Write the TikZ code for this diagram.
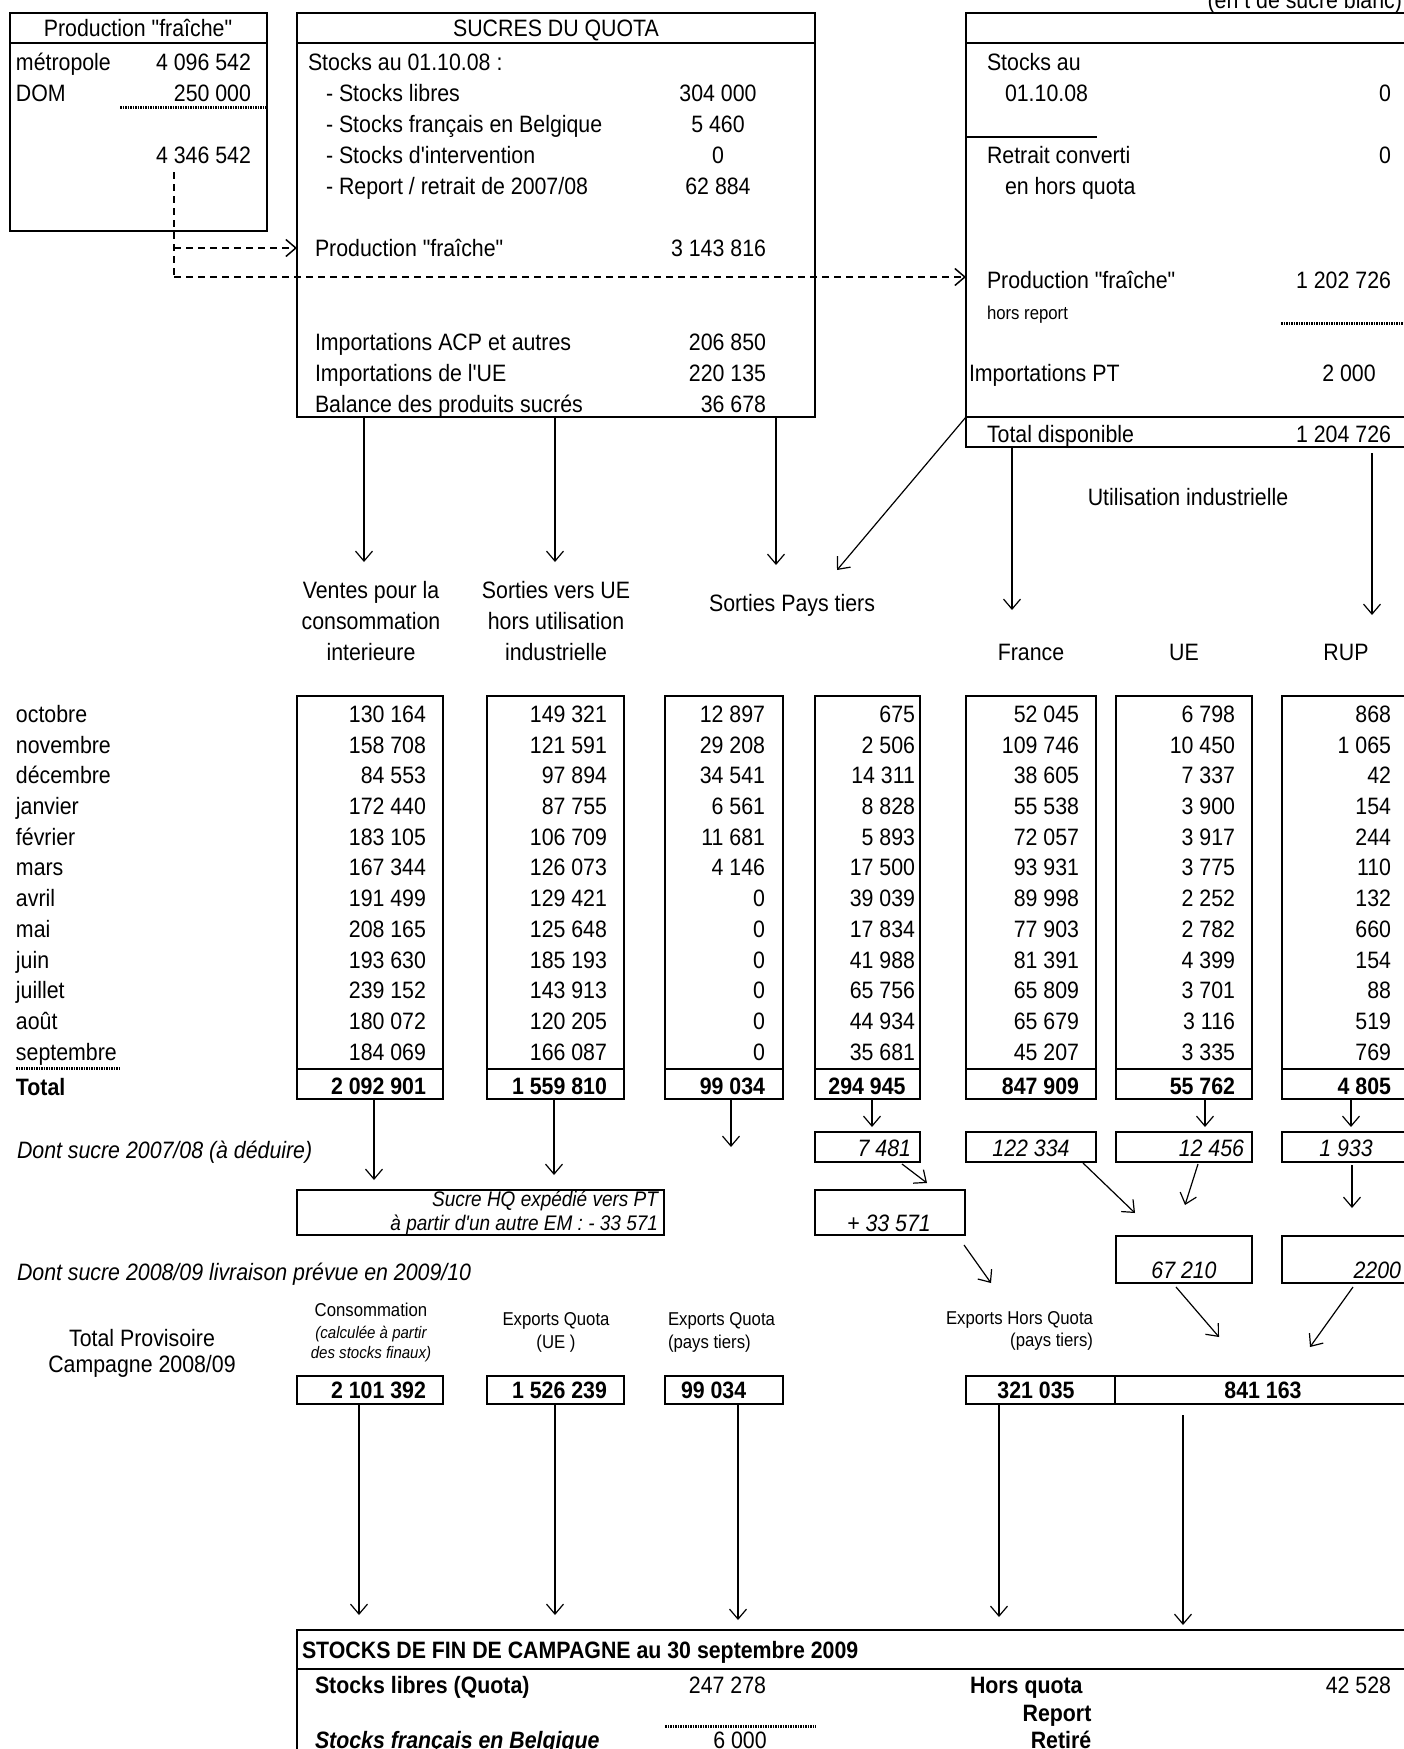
\documentclass[tikz,border=0pt]{standalone}
\usepackage{fontspec}
\setmainfont{Liberation Sans}[Ligatures=TeXOff,FakeStretch=0.9]
\usetikzlibrary{arrows.meta}
\newcommand\fzN{\fontsize{23.7}{27}\selectfont}
\newcommand\fzM{\fontsize{21.1}{24}\selectfont}
\newcommand\fzS{\fontsize{18.6}{21}\selectfont}
\newcommand\fzT{\fontsize{16.7}{19}\selectfont}
\newcommand\bx[6]{\node[#6,minimum width={(#4)-(#2)},minimum height={(#5)-(#3)}] (#1) at (#2,#3) {};}
\newcommand\tcol[5]{%
  \bx{#1}{#2}{696}{#3}{1099}{tbox}
  \draw[sepl] (#2,1069) -- (#3,1069);
  \foreach \v [count=\i from 0] in {#5} {\node[t,le] (#1r\i) at (#4,{714+30.7*\i}) {\v};}
}
\begin{document}
\begin{tikzpicture}[x=1pt,y=-1pt,
  t/.style={inner sep=0pt,outer sep=0pt,font=\fzN,yshift=-8.4pt},
  tb/.style={t,font=\fzN\bfseries},
  ti/.style={t,font=\fzN\itshape},
  tbi/.style={t,font=\fzN\bfseries\itshape},
  tm/.style={inner sep=0pt,outer sep=0pt,font=\fzM\itshape,yshift=-7.5pt},
  ts/.style={inner sep=0pt,outer sep=0pt,font=\fzS,yshift=-6.6pt},
  tt/.style={inner sep=0pt,outer sep=0pt,font=\fzT\itshape,yshift=-6pt},
  lw/.style={anchor=base west},
  le/.style={anchor=base east},
  lc/.style={anchor=base},
  tbox/.style={draw,line width=2.6pt,anchor=north west,inner sep=0pt,outer sep=0pt},
  nbox/.style={draw,line width=1.2pt,anchor=north west,inner sep=0pt,outer sep=0pt},
  tip/.style={-{Straight Barb[length=10pt,width=17pt]}},
  arr/.style={line width=1.2pt,tip},
  dashl/.style={line width=1.5pt,dash pattern=on 7pt off 5pt},
  dotl/.style={line width=3pt,dash pattern=on 1.5pt off 1pt},
  sepl/.style={line width=2.6pt}
]
\useasboundingbox (0,0) rectangle (1404,1749);
\fill[white] (0,0) rectangle (1404,1749);

% ---------- top left box
\bx{pf}{10}{13}{267}{231}{tbox}
\draw[sepl] (10,43) -- (267,43);
\node[t,lc] (pfh) at (138,28) {Production "fraîche"};
\node[t,lw] (pfm) at (16,62) {métropole};
\node[t,le] (pfmv) at (251,62) {4 096 542};
\node[t,lw] (pfd) at (16,93) {DOM};
\node[t,le] (pfdv) at (251,93) {250 000};
\draw[dotl] (120,107) -- (267,107);
\node[t,le] (pft) at (251,155) {4 346 542};

% ---------- middle box
\bx{sq}{297}{13}{815}{417}{tbox}
\draw[sepl] (297,43) -- (815,43);
\node[t,lc] (sqh) at (556,28) {SUCRES DU QUOTA};
\node[t,lw] (sq1) at (308,62) {Stocks au 01.10.08 :};
\node[t,lw] (sq2) at (326,93) {- Stocks libres};
\node[t,lc] (sq2v) at (718,93) {304 000};
\node[t,lw] (sq3) at (326,124) {- Stocks français en Belgique};
\node[t,lc] (sq3v) at (718,124) {5 460};
\node[t,lw] (sq4) at (326,155) {- Stocks d'intervention};
\node[t,lc] (sq4v) at (718,155) {0};
\node[t,lw] (sq5) at (326,186) {- Report / retrait de 2007/08};
\node[t,lc] (sq5v) at (718,186) {62 884};
\node[t,lw] (sq6) at (315,248) {Production "fraîche"};
\node[t,le] (sq6v) at (766,248) {3 143 816};
\node[t,lw] (sq7) at (315,342) {Importations ACP et autres};
\node[t,le] (sq7v) at (766,342) {206 850};
\node[t,lw] (sq8) at (315,373) {Importations de l'UE};
\node[t,le] (sq8v) at (766,373) {220 135};
\node[t,lw] (sq9) at (315,404) {Balance des produits sucrés};
\node[t,le] (sq9v) at (766,404) {36 678};

% ---------- right box
\node[t,le] (unit) at (1402,0) {(en t de sucre blanc)};
\bx{rb}{966}{13}{1420}{417}{tbox}
\bx{rtot}{966}{417}{1420}{447}{tbox}
\draw[sepl] (966,43) -- (1420,43);
\draw[line width=2pt] (966,137) -- (1097,137);
\node[t,lw] (rb1) at (987,62) {Stocks au};
\node[t,lw] (rb2) at (1005,93) {01.10.08};
\node[t,le] (rb2v) at (1391,93) {0};
\node[t,lw] (rb3) at (987,155) {Retrait converti};
\node[t,le] (rb3v) at (1391,155) {0};
\node[t,lw] (rb4) at (1005,186) {en hors quota};
\node[t,lw] (rb5) at (987,280) {Production "fraîche"};
\node[t,le] (rb5v) at (1391,280) {1 202 726};
\node[ts,lw] (rb6) at (987,313) {hors report};
\draw[dotl] (1281,323) -- (1420,323);
\node[t,lw] (rb7) at (969,373) {Importations PT};
\node[t,lc] (rb7v) at (1349,373) {2 000};
\node[t,lw] (rb8) at (987,434) {Total disponible};
\node[t,le] (rb8v) at (1391,434) {1 204 726};

% ---------- dashed connectors
\coordinate (d0) at (174,172);
\coordinate (d1) at (174,248);
\coordinate (d2) at (174,277);
\draw[dashl] (d0) -- (d2);
\draw[dashl,tip] (d1) -- (sq.west |- d1);
\draw[dashl,tip] (d2) -- (rb.west |- d2);

% ---------- arrows to categories
\coordinate (v1) at (364,562);
\coordinate (v2) at (555,562);
\coordinate (v3) at (776,565);
\coordinate (v4) at (837,570);
\coordinate (v5) at (1012,610);
\coordinate (v6s) at (1372,453);
\coordinate (v6) at (1372,615);
\draw[arr] (sq.south -| v1) -- (v1);
\draw[arr] (sq.south -| v2) -- (v2);
\draw[arr] (sq.south -| v3) -- (v3);
\draw[arr] (rtot.north west) -- (v4);
\draw[arr] (rtot.south -| v5) -- (v5);
\draw[arr] (v6s) -- (v6);

\node[t,lc] (ui) at (1188,497) {Utilisation industrielle};
\node[t,lc] (spt) at (792,603) {Sorties Pays tiers};
\node[t,lc] (ve1) at (371,590) {Ventes pour la};
\node[t,lc] (ve2) at (371,621) {consommation};
\node[t,lc] (ve3) at (371,652) {interieure};
\node[t,lc] (su1) at (556,590) {Sorties vers UE};
\node[t,lc] (su2) at (556,621) {hors utilisation};
\node[t,lc] (su3) at (556,652) {industrielle};
\node[t,lc] (fr) at (1031,652) {France};
\node[t,lc] (ue) at (1184,652) {UE};
\node[t,lc] (rup) at (1346,652) {RUP};

% ---------- monthly table
\foreach \m [count=\i from 0] in {octobre,novembre,décembre,janvier,février,mars,avril,mai,juin,juillet,août,septembre}
  {\node[t,lw] (mo\i) at (16,{714+30.7*\i}) {\m};}
\draw[dotl] (16,1068) -- (121,1068);
\node[tb,lw] (tot) at (16,1087) {Total};

\tcol{ca}{297}{443}{426}{130 164,158 708,84 553,172 440,183 105,167 344,191 499,208 165,193 630,239 152,180 072,184 069}
\tcol{cb}{487}{624}{607}{149 321,121 591,97 894,87 755,106 709,126 073,129 421,125 648,185 193,143 913,120 205,166 087}
\tcol{cc}{665}{783}{765}{12 897,29 208,34 541,6 561,11 681,4 146,0,0,0,0,0,0}
\tcol{cd}{815}{920}{915}{675,2 506,14 311,8 828,5 893,17 500,39 039,17 834,41 988,65 756,44 934,35 681}
\tcol{ce}{966}{1096}{1079}{52 045,109 746,38 605,55 538,72 057,93 931,89 998,77 903,81 391,65 809,65 679,45 207}
\tcol{cf}{1116}{1252}{1235}{6 798,10 450,7 337,3 900,3 917,3 775,2 252,2 782,4 399,3 701,3 116,3 335}
\tcol{cg}{1282}{1420}{1391}{868,1 065,42,154,244,110,132,660,154,88,519,769}

\node[tb,le] (cat) at (426,1086) {2 092 901};
\node[tb,le] (cbt) at (607,1086) {1 559 810};
\node[tb,le] (cct) at (765,1086) {99 034};
\node[tb,lc] (cdt) at (867,1086) {294 945};
\node[tb,le] (cet) at (1079,1086) {847 909};
\node[tb,le] (cft) at (1235,1086) {55 762};
\node[tb,le] (cgt) at (1391,1086) {4 805};

% ---------- below the table
\node[ti,lw] (ds1) at (17,1150) {Dont sucre 2007/08 (à déduire)};
\node[ti,lw] (ds2) at (17,1272) {Dont sucre 2008/09 livraison prévue en 2009/10};

\bx{b7}{815}{1132}{920}{1162}{nbox}
\node[ti,le] (b7t) at (911,1148) {7 481};
\bx{b122}{966}{1132}{1096}{1162}{nbox}
\node[ti,lc] (b122t) at (1031,1148) {122 334};
\bx{b12}{1116}{1132}{1252}{1162}{nbox}
\node[ti,le] (b12t) at (1244,1148) {12 456};
\bx{b19}{1282}{1132}{1420}{1162}{nbox}
\node[ti,lc] (b19t) at (1346,1148) {1 933};

\bx{hq}{297}{1190}{664}{1235}{nbox}
\node[tm,le] (hq1) at (658,1199) {Sucre HQ expédié vers PT};
\node[tm,le] (hq2) at (658,1223) {à partir d'un autre EM : - 33 571};
\bx{b33}{815}{1190}{965}{1235}{nbox}
\node[ti,lc] (b33t) at (889,1223) {+ 33 571};
\bx{b67}{1116}{1236}{1252}{1283}{nbox}
\node[ti,lc] (b67t) at (1184,1270) {67 210};
\bx{b22}{1282}{1236}{1420}{1283}{nbox}
\node[ti,le] (b22t) at (1401,1270) {2200};

\coordinate (w1) at (374,1180);
\coordinate (w2) at (554,1175);
\coordinate (w3) at (731,1147);
\coordinate (w4) at (872,1127);
\coordinate (w6) at (1205,1127);
\coordinate (w7) at (1351,1127);
\draw[arr] (ca.south -| w1) -- (w1);
\draw[arr] (cb.south -| w2) -- (w2);
\draw[arr] (cc.south -| w3) -- (w3);
\draw[arr] (cd.south -| w4) -- (w4);
\draw[arr] (cf.south -| w6) -- (w6);
\draw[arr] (cg.south -| w7) -- (w7);

\coordinate (x1s) at (902,1164); \coordinate (x1e) at (927,1183);
\coordinate (x2s) at (964,1245); \coordinate (x2e) at (991,1283);
\coordinate (x3s) at (1083,1163); \coordinate (x3e) at (1135,1213);
\coordinate (x4s) at (1198,1164); \coordinate (x4e) at (1185,1205);
\coordinate (x5s) at (1352,1165); \coordinate (x5e) at (1352,1208);
\coordinate (x6s) at (1176,1287); \coordinate (x6e) at (1219,1337);
\coordinate (x7s) at (1353,1287); \coordinate (x7e) at (1310,1347);
\draw[arr] (x1s) -- (x1e);
\draw[arr] (x2s) -- (x2e);
\draw[arr] (x3s) -- (x3e);
\draw[arr] (x4s) -- (x4e);
\draw[arr] (x5s) -- (x5e);
\draw[arr] (x6s) -- (x6e);
\draw[arr] (x7s) -- (x7e);

% ---------- provisional totals
\node[t,lc] (tp1) at (142,1338) {Total Provisoire};
\node[t,lc] (tp2) at (142,1364) {Campagne 2008/09};
\node[ts,lc] (co1) at (371,1310) {Consommation};
\node[tt,lc] (co2) at (371,1332) {(calculée à partir};
\node[tt,lc] (co3) at (371,1352) {des stocks finaux)};
\node[ts,lc] (eq1) at (556,1319) {Exports Quota};
\node[ts,lc] (eq2) at (556,1342) {(UE )};
\node[ts,lw] (ep1) at (668,1319) {Exports Quota};
\node[ts,lw] (ep2) at (668,1342) {(pays tiers)};
\node[ts,le] (eh1) at (1093,1318) {Exports Hors Quota};
\node[ts,le] (eh2) at (1093,1340) {(pays tiers)};

\bx{pa}{297}{1376}{443}{1404}{tbox}
\node[tb,le] (pat) at (426,1390) {2 101 392};
\bx{pb}{487}{1376}{624}{1404}{tbox}
\node[tb,le] (pbt) at (607,1390) {1 526 239};
\bx{pc}{665}{1376}{783}{1404}{tbox}
\node[tb,lw] (pct) at (681,1390) {99 034};
\bx{pd}{966}{1376}{1115}{1404}{tbox}
\node[tb,lc] (pdt) at (1036,1390) {321 035};
\bx{pe}{1115}{1376}{1420}{1404}{tbox}
\node[tb,lc] (pet) at (1263,1390) {841 163};

% ---------- final stocks
\bx{fin}{297}{1630}{1420}{1775}{tbox}
\draw[sepl] (297,1669) -- (1420,1669);
\coordinate (y1) at (359,1615);
\coordinate (y2) at (555,1615);
\coordinate (y3) at (738,1620);
\coordinate (y4) at (999,1617);
\coordinate (y5s) at (1183,1415);
\coordinate (y5) at (1183,1625);
\draw[arr] (pa.south -| y1) -- (y1);
\draw[arr] (pb.south -| y2) -- (y2);
\draw[arr] (pc.south -| y3) -- (y3);
\draw[arr] (pd.south -| y4) -- (y4);
\draw[arr] (y5s) -- (y5);

\node[tb,lw] (fh) at (302,1650) {STOCKS DE FIN DE CAMPAGNE au 30 septembre 2009};
\node[tb,lw] (f1) at (315,1685) {Stocks libres (Quota)};
\node[t,le] (f1v) at (766,1685) {247 278};
\node[tb,lw] (f2) at (970,1685) {Hors quota};
\node[t,le] (f2v) at (1391,1685) {42 528};
\node[tb,lc] (f3) at (1057,1713) {Report};
\draw[dotl] (665,1726) -- (816,1726);
\node[tbi,lw] (f4) at (315,1740) {Stocks français en Belgique};
\node[t,lc] (f4v) at (740,1740) {6 000};
\node[tb,lc] (f5) at (1061,1740) {Retiré};
\end{tikzpicture}
\end{document}
